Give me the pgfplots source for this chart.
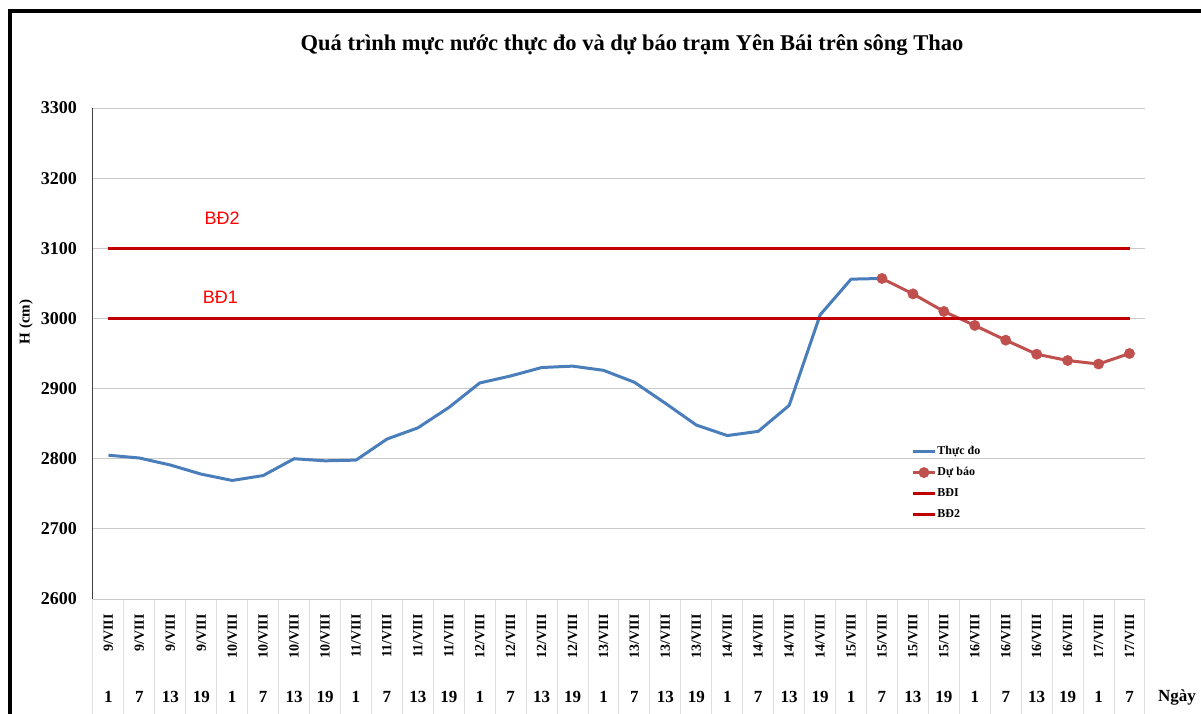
\documentclass[border=0pt]{standalone}
\usepackage{fontspec}
\setmainfont{Liberation Serif}
\newfontfamily\arialfont{Liberation Sans}
\usepackage{pgfplots}
\pgfplotsset{compat=1.18}
\definecolor{obsblue}{RGB}{74,126,187}
\definecolor{fcred}{RGB}{192,80,77}
\definecolor{bdred}{RGB}{192,0,0}
\definecolor{gridgray}{RGB}{200,200,200}
\definecolor{sepgray}{RGB}{222,222,222}
\begin{document}
\begin{tikzpicture}
\useasboundingbox (0pt,0pt) rectangle (1201pt,713pt);
\draw[line width=3.5pt,black] (10pt,-5pt) -- (10pt,702pt) -- (1210pt,702pt);
\node[font=\bfseries\fontsize{22.5}{26}\selectfont] at (632pt,668pt) {Quá trình mực nước thực đo và dự báo trạm Yên Bái trên sông Thao};
\node[font=\bfseries\fontsize{17}{20}\selectfont] at (1177pt,16pt) {Ngày};
\begin{axis}[
  scale only axis,
  width=1052pt, height=491pt,
  at={(93pt,114pt)}, anchor=south west,
  xmin=-0.5, xmax=33.5,
  ymin=2600, ymax=3300,
  ytick={2600,2700,...,3300},
  xtick={0,...,33},
  xticklabels={1,7,13,19,1,7,13,19,1,7,13,19,1,7,13,19,1,7,13,19,1,7,13,19,1,7,13,19,1,7,13,19,1,7},
  xticklabel style={anchor=center,inner sep=0pt,yshift=-98pt,font=\bfseries\fontsize{17}{20}\selectfont},
  extra x ticks={0,...,33},
  extra x tick labels={9/VIII,9/VIII,9/VIII,9/VIII,10/VIII,10/VIII,10/VIII,10/VIII,11/VIII,11/VIII,11/VIII,11/VIII,12/VIII,12/VIII,12/VIII,12/VIII,13/VIII,13/VIII,13/VIII,13/VIII,14/VIII,14/VIII,14/VIII,14/VIII,15/VIII,15/VIII,15/VIII,15/VIII,16/VIII,16/VIII,16/VIII,16/VIII,17/VIII,17/VIII},
  extra x tick style={xticklabel style={rotate=90,anchor=east,xshift=83pt,font=\bfseries\fontsize{14}{16}\selectfont}},
  yticklabel style={anchor=east,inner sep=0pt,xshift=-16pt,font=\bfseries\fontsize{18}{20}\selectfont},
  /pgf/number format/assume math mode=true,
  /pgf/number format/1000 sep={},
  minor xtick={-0.5,0.5,...,33.5},
  tick align=outside,
  major tick length=0pt,
  minor tick length=116pt,
  minor tick style={sepgray,line width=1pt},
  xtick pos=bottom, ytick pos=left,
  axis x line*=bottom, axis y line*=left,
  x axis line style={gridgray,line width=1pt},
  y axis line style={black!75,line width=1pt},
  ymajorgrids,
  grid style={gridgray,line width=1pt},
  ylabel={H (cm)},
  ylabel style={at={(axis description cs:-0.0637,0.564)},anchor=center,font=\bfseries\fontsize{15}{18}\selectfont},
  legend style={at={(axis description cs:0.775,0.319)},anchor=north west,draw=none,fill=none,
    font=\bfseries\fontsize{12}{14}\selectfont,row sep=7pt,
    nodes={inner sep=1pt,text height=9pt,text depth=3pt}},
  legend cell align=left,
  legend image code/.code={\draw[mark repeat=2,mark phase=2,#1] plot coordinates {(0pt,0pt) (11pt,0pt) (22pt,0pt)};},
  clip=false,
]
\addplot[obsblue,line width=3pt,line join=round] coordinates {
(0,2805) (1,2801) (2,2791) (3,2778) (4,2769) (5,2776) (6,2800) (7,2797) (8,2798) (9,2828)
(10,2844) (11,2873) (12,2908) (13,2918) (14,2930) (15,2932) (16,2926) (17,2909) (18,2879)
(19,2848) (20,2833) (21,2839) (22,2876) (23,3005) (24,3056) (25,3057)};
\addlegendentry{Thực đo}
\addplot[fcred,line width=3pt,line join=round,mark=*,mark size=5.2pt,mark options={solid,fill=fcred,draw=fcred,line width=0.4pt}] coordinates {
(25,3057) (26,3035) (27,3010) (28,2990) (29,2969) (30,2949) (31,2940) (32,2935) (33,2950)};
\addlegendentry{Dự báo}
\addplot[bdred,line width=2.6pt] coordinates {(0,3000) (33,3000)};
\addlegendentry{BĐI}
\addplot[bdred,line width=2.6pt] coordinates {(0,3100) (33,3100)};
\addlegendentry{BĐ2}
\node[text=red,font=\arialfont\fontsize{18}{20}\selectfont] at (axis cs:3.67,3143) {BĐ2};
\node[text=red,font=\arialfont\fontsize{18}{20}\selectfont] at (axis cs:3.62,3030) {BĐ1};
\end{axis}
\end{tikzpicture}
\end{document}
